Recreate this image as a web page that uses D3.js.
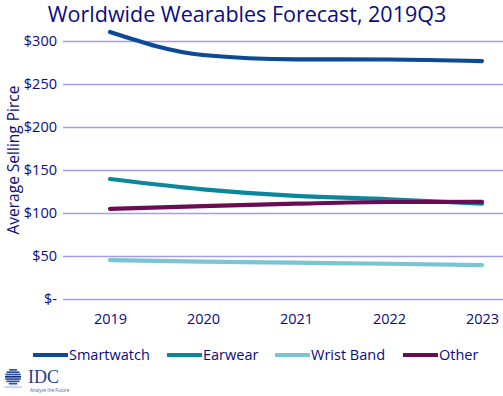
<!DOCTYPE html>
<html>
<head>
<meta charset="utf-8">
<script src="https://cdn.jsdelivr.net/npm/d3@7"></script>
<style>
  body { margin: 0; background: #fff; }
  svg { display: block; font-family: "Open Sans", "Noto Sans", sans-serif; }
</style>
</head>
<body>
<svg id="chart" width="503" height="396"></svg>
<script>
// chart data
const years = ['2019', '2020', '2021', '2022', '2023'];
const seriesNames = ['Smartwatch', 'Earwear', 'Wrist Band', 'Other'];
const smartwatch = [310.5, 283.7, 278.7, 278.5, 276.7];
const earwear = [139.5, 127.5, 120, 116, 111];
const wristBand = [45.3, 43.4, 42.2, 41, 39.5];
const other = [104.7, 108, 110.8, 112.8, 113];
const yTicks = [0, 50, 100, 150, 200, 250, 300];
const seriesColors = ['#0b4a94', '#0a879c', '#79c5d4', '#6a0d52'];

const series = [smartwatch, earwear, wristBand, other].map((values, i) => ({
    name: seriesNames[i],
    color: seriesColors[i],
    values: values.map((v, j) => ({year: years[j], value: v}))
}));

const navy = '#0b0b80';
const svg = d3.select('#chart');

const x = d3.scalePoint()
    .domain(years)
    .range([110, 482]);

const y = d3.scaleLinear()
    .domain([0, 300])
    .range([299, 41]);

// title
svg.append('text')
    .attr('x', 247)
    .attr('y', 21.5)
    .attr('text-anchor', 'middle')
    .attr('fill', navy)
    .style('font-size', '21.5px')
    .text('Worldwide Wearables Forecast, 2019Q3');

// grid lines + y labels
const yAxis = svg.append('g')
    .call(d3.axisLeft(y)
        .tickValues(yTicks)
        .tickSize(0)
        .tickPadding(6)
        .tickFormat(d => d === 0 ? '$-' : '$' + d));
yAxis.attr('transform', 'translate(63,0)');
yAxis.select('.domain').remove();
yAxis.selectAll('.tick text')
    .attr('fill', navy)
    .style('font-size', '14.5px')
    .style('font-family', '"Open Sans", sans-serif');
yAxis.selectAll('.tick').append('line')
    .attr('x1', 0)
    .attr('x2', 440)
    .attr('stroke', '#a49ee6')
    .attr('stroke-width', 1.3);

// y axis title
svg.append('text')
    .attr('transform', 'translate(19,160) rotate(-90)')
    .attr('text-anchor', 'middle')
    .attr('fill', navy)
    .style('font-size', '15.5px')
    .text('Average Selling Pirce');

// x labels
const xAxis = svg.append('g')
    .attr('transform', 'translate(0,314)')
    .call(d3.axisBottom(x).tickSize(0).tickPadding(0));
xAxis.select('.domain').remove();
xAxis.selectAll('.tick text')
    .attr('dy', '0.71em')
    .attr('fill', navy)
    .style('font-size', '14.5px')
    .style('font-family', '"Open Sans", sans-serif');

// lines
const line = d3.line()
    .x(d => x(d.year))
    .y(d => y(d.value))
    .curve(d3.curveMonotoneX);

svg.append('g')
    .selectAll('path')
    .data(series)
    .join('path')
    .attr('d', d => line(d.values))
    .attr('fill', 'none')
    .attr('stroke', d => d.color)
    .attr('stroke-width', 4.2)
    .attr('stroke-linecap', 'round');

// legend
const legendX = [33, 167, 275, 403];
const legend = svg.append('g')
    .selectAll('g')
    .data(series)
    .join('g')
    .attr('transform', (d, i) => `translate(${legendX[i]},355)`);
legend.append('line')
    .attr('x1', 0)
    .attr('x2', 35)
    .attr('stroke', d => d.color)
    .attr('stroke-width', 4);
legend.append('text')
    .attr('x', 36)
    .attr('dy', '0.35em')
    .attr('fill', navy)
    .style('font-size', '14.5px')
    .text(d => d.name);

// IDC logo
const logo = svg.append('g').attr('transform', 'translate(4,369)');
const stripes = d3.range(7);
const r = 8;
const halfW = d => Math.sqrt(Math.max(0, r * r - Math.pow(d * 2.3 + 1 - r, 2)));
logo.append('g')
    .selectAll('rect')
    .data(stripes)
    .join('rect')
    .attr('x', d => r + 1 - halfW(d))
    .attr('y', d => d * 2.3)
    .attr('width', d => 2 * halfW(d))
    .attr('height', 1.7)
    .attr('fill', d => d === 3 ? '#15276e' : '#2e52a2');
logo.append('ellipse')
    .attr('cx', r + 1)
    .attr('cy', 18)
    .attr('rx', 10)
    .attr('ry', 1.5)
    .attr('fill', '#cfd8ea');
logo.append('text')
    .attr('x', 24)
    .attr('y', 13.5)
    .attr('fill', '#1f3d8f')
    .style('font-family', '"Liberation Serif", serif')
    .style('font-size', '18px')
    .text('IDC');
logo.append('text')
    .attr('x', 26)
    .attr('y', 22.5)
    .attr('fill', '#3c5ba8')
    .style('font-size', '4.5px')
    .text('Analyze the Future');
</script>
</body>
</html>
